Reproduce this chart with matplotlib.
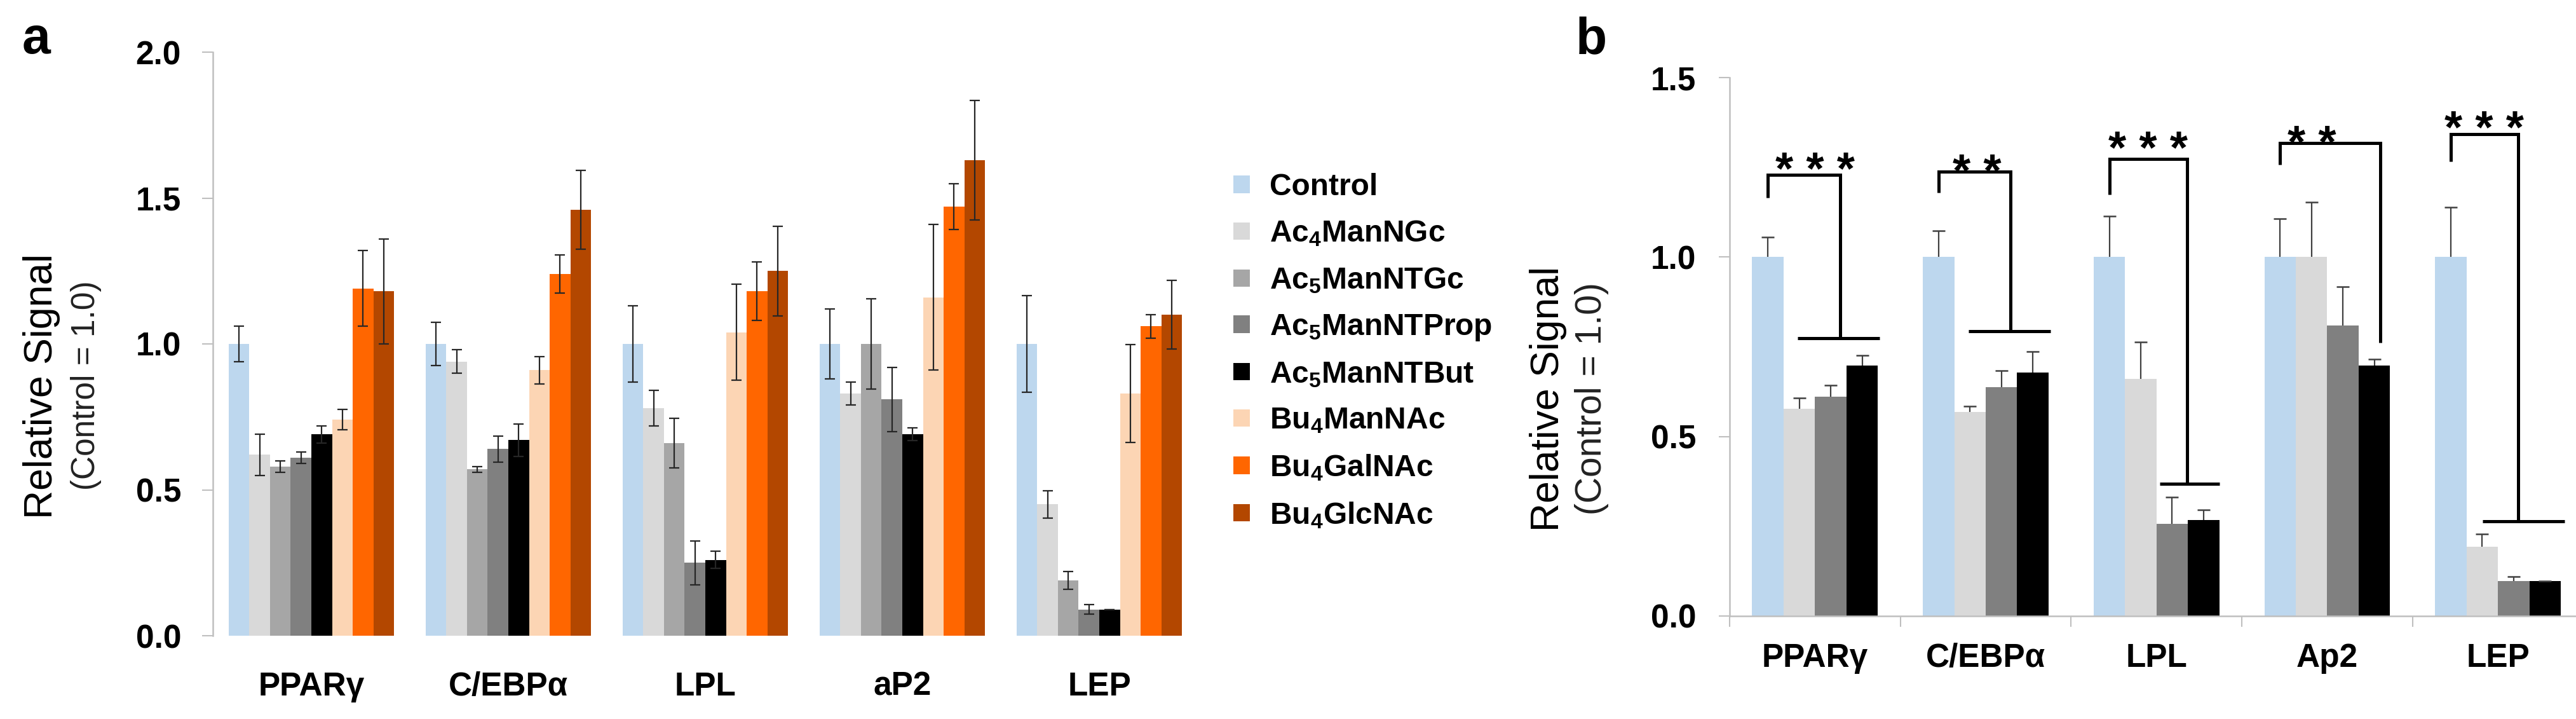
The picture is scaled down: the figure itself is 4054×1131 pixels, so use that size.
import numpy as np
import matplotlib
matplotlib.use('Agg')
import matplotlib.pyplot as plt

plt.rcParams['font.family'] = ['Liberation Sans', 'DejaVu Sans']
plt.rcParams['mathtext.fontset'] = 'custom'
plt.rcParams['mathtext.rm'] = 'Liberation Sans'
plt.rcParams['mathtext.bf'] = 'Liberation Sans:bold'

###### data, panel a ######
genes_a = ['PPARγ', 'C/EBPα', 'LPL', 'aP2', 'LEP']
series = ['Control', r'Ac$_\mathbf{4}$ManNGc', r'Ac$_\mathbf{5}$ManNTGc',
          r'Ac$_\mathbf{5}$ManNTProp', r'Ac$_\mathbf{5}$ManNTBut',
          r'Bu$_\mathbf{4}$ManNAc', r'Bu$_\mathbf{4}$GalNAc', r'Bu$_\mathbf{4}$GlcNAc']
colors = ['#BDD7EE', '#D9D9D9', '#A6A6A6', '#808080', '#000000',
          '#FCD5B4', '#FF6600', '#B34700']

# rows = series, cols = genes
vals_a = np.array([
    [1.00, 1.00, 1.00, 1.00, 1.00],
    [0.62, 0.94, 0.78, 0.83, 0.45],
    [0.58, 0.57, 0.66, 1.00, 0.19],
    [0.61, 0.64, 0.25, 0.81, 0.09],
    [0.69, 0.67, 0.26, 0.69, 0.09],
    [0.74, 0.91, 1.04, 1.16, 0.83],
    [1.19, 1.24, 1.18, 1.47, 1.06],
    [1.18, 1.46, 1.25, 1.63, 1.10],
])
err_a = np.array([
    [0.06, 0.075, 0.13, 0.12, 0.165],
    [0.07, 0.04, 0.06, 0.04, 0.047],
    [0.02, 0.01, 0.085, 0.154, 0.03],
    [0.02, 0.045, 0.075, 0.11, 0.016],
    [0.03, 0.055, 0.03, 0.022, 0.0],
    [0.035, 0.047, 0.165, 0.25, 0.168],
    [0.13, 0.065, 0.10, 0.078, 0.04],
    [0.18, 0.135, 0.154, 0.205, 0.117],
])

###### data, panel b ######
genes_b = ['PPARγ', 'C/EBPα', 'LPL', 'Ap2', 'LEP']
series_b = [0, 1, 3, 4]  # Control, Ac4ManNGc, Ac5ManNTProp, Ac5ManNTBut
vals_b = np.array([
    [1.00, 1.00, 1.00, 1.00, 1.00],
    [0.577, 0.569, 0.66, 1.00, 0.193],
    [0.611, 0.637, 0.257, 0.809, 0.097],
    [0.698, 0.679, 0.267, 0.698, 0.097],
])
err_b = np.array([
    [0.056, 0.074, 0.114, 0.107, 0.138],
    [0.030, 0.015, 0.103, 0.153, 0.035],
    [0.032, 0.047, 0.075, 0.109, 0.012],
    [0.028, 0.058, 0.028, 0.017, 0.0],
])
# significance brackets
sig_text = ['* * *', '* *', '* * *', '* *', '* * *']
sig_left_low = [1.165, 1.18, 1.174, 1.257, 1.266]
sig_top = [1.229, 1.238, 1.274, 1.318, 1.343]
sig_right_x = [0.149, 0.146, 0.18, 0.31, 0.12]
sig_drop = [0.774, 0.794, 0.368, 0.761, 0.263]
sig_foot = [(-0.10, 0.38), (-0.10, 0.38), (0.02, 0.37), None, (-0.09, 0.39)]
sig_star_x = [0.0, -0.05, -0.05, -0.09, -0.08]
sig_star_y = [1.273, 1.267, 1.331, 1.346, 1.388]

W, H = 4054, 1131
fig = plt.figure(figsize=(W/100, H/100), dpi=100)
axc = '#BFBFBF'

###### panel a ######
ax = fig.add_axes([335/W, 1-1000/H, 1550/W, 918/H])
x = np.arange(len(genes_a))
bw = 0.105
handles = []
for j in range(len(series)):
    xx = x + (j - 3.5)*bw
    b = ax.bar(xx, vals_a[j], bw, color=colors[j], linewidth=0)
    handles.append(b)
    ax.errorbar(xx, vals_a[j], yerr=err_a[j], fmt='none', ecolor='#262626',
                elinewidth=1.6, capsize=5.5, capthick=1.6)
ax.set_xlim(-0.5, 4.5)
ax.set_ylim(0, 2.0)
for s in ['top', 'right', 'bottom']:
    ax.spines[s].set_visible(False)
ax.spines['left'].set_color(axc)
ax.spines['left'].set_linewidth(1.8)
ax.set_yticks([0, 0.5, 1.0, 1.5, 2.0])
ax.set_yticklabels(['0.0', '0.5', '1.0', '1.5', '2.0'], fontsize=37, fontweight='bold')
ax.tick_params(axis='y', length=12, width=1.5, color=axc, pad=24)
ax.set_xticks(x)
ax.set_xticklabels(genes_a, fontsize=37, fontweight='bold')
ax.tick_params(axis='x', length=0, pad=40)

fig.text(66/W, 1-608/H, 'Relative Signal', rotation=90, fontsize=45,
         ha='center', va='center')
fig.text(136/W, 1-606/H, '(Control = 1.0)', rotation=90, fontsize=37,
         ha='center', va='center', color='#222222')
fig.text(35/W, 1-84/H, 'a', fontsize=58, fontweight='bold', va='baseline')

ax.legend(handles, series, loc='upper left', bbox_to_anchor=(1941/W, 1-272/H),
          bbox_transform=fig.transFigure, frameon=False,
          prop={'size': 34.5, 'weight': 'bold'}, handlelength=0.55, handleheight=0.5,
          handletextpad=0.64, labelspacing=0.58, borderpad=0, borderaxespad=0)

###### panel b ######
bx = fig.add_axes([2722/W, 1-969/H, (W-2722)/W, 847/H])
xb = np.arange(len(genes_b))
bwb = 0.184
for k, j in enumerate(series_b):
    xx = xb + (k - 1.5)*bwb
    bx.bar(xx, vals_b[k], bwb, color=colors[j], linewidth=0)
    top = vals_b[k] + err_b[k]
    bx.vlines(xx, vals_b[k], top, color='#404040', linewidth=1.6)
    bx.plot(xx, top, linestyle='none', marker='_', markersize=14,
            markeredgewidth=1.8, color='#404040')
bx.set_xlim(-0.5, (W-2722)/268.7 - 0.5)
bx.set_ylim(0, 1.5)
for s in ['top', 'right']:
    bx.spines[s].set_visible(False)
for s in ['left', 'bottom']:
    bx.spines[s].set_color(axc)
    bx.spines[s].set_linewidth(1.8)
bx.set_yticks([0, 0.5, 1.0, 1.5])
bx.set_yticklabels(['0.0', '0.5', '1.0', '1.5'], fontsize=37, fontweight='bold')
bx.tick_params(axis='y', length=12, width=1.5, color=axc, pad=26)
bx.set_xticks(xb)
bx.set_xticklabels(genes_b, fontsize=37, fontweight='bold')
bx.set_xticks(np.arange(len(genes_b)) - 0.5, minor=True)
bx.tick_params(axis='x', which='major', length=0, pad=30)
bx.tick_params(axis='x', which='minor', length=12, width=1.5, color=axc)

lx = -1.5*bwb
for i in range(len(genes_b)):
    c = xb[i]
    bx.plot([c+lx, c+lx, c+sig_right_x[i], c+sig_right_x[i]],
            [sig_left_low[i], sig_top[i], sig_top[i], sig_drop[i]],
            color='black', linewidth=3.6, clip_on=False,
            solid_joinstyle='miter', solid_capstyle='butt')
    if sig_foot[i] is not None:
        bx.plot([c+sig_foot[i][0], c+sig_foot[i][1]], [sig_drop[i], sig_drop[i]],
                color='black', linewidth=3.6, clip_on=False, solid_capstyle='butt')
    bx.text(c+sig_star_x[i], sig_star_y[i] - 0.07, sig_text[i], fontsize=52,
            fontweight='bold', ha='center', va='baseline', clip_on=False)

fig.text(2437/W, 1-628/H, 'Relative Signal', rotation=90, fontsize=45,
         ha='center', va='center')
fig.text(2505/W, 1-627/H, '(Control = 1.0)', rotation=90, fontsize=41,
         ha='center', va='center', color='#222222')
fig.text(2480/W, 1-84/H, 'b', fontsize=58, fontweight='bold', va='baseline')

plt.savefig('out.png', dpi=100, facecolor='w')
